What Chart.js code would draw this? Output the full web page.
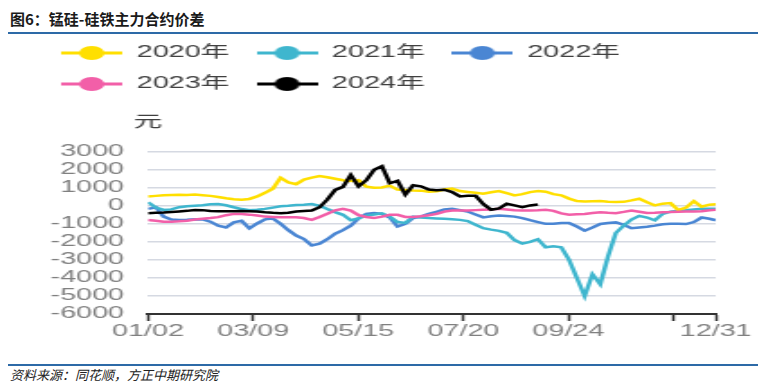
<!DOCTYPE html>
<html lang="zh-CN">
<head>
<meta charset="utf-8">
<title>锰硅-硅铁主力合约价差</title>
<script src="https://cdn.jsdelivr.net/npm/chart.js@4.4.1/dist/chart.umd.min.js"></script>
<style>
  body { margin: 0; background: #fff; }
  #wrap { position: relative; width: 766px; height: 385px; overflow: hidden; }
  .title { position: absolute; left: 10px; top: 9px; font: bold 15px/20px "Noto Sans CJK SC"; color: #1a1a1a; }
  .rule { position: absolute; left: 8px; width: 750px; height: 2px; background: #2d6aa7; }
  .source { position: absolute; left: 10px; top: 366px; font: italic 13px/18px "Noto Sans CJK SC"; color: #222; }
  #chart { position: absolute; left: 0; top: 28px; }
</style>
</head>
<body>
<div id="wrap">
  <div class="title">图6：锰硅-硅铁主力合约价差</div>
  <div class="rule" style="top:32px"></div>
  <!-- 原图横向拉伸约1.8倍，画布按 426 宽绘制再拉到 766 -->
  <canvas id="chart" width="426" height="330" style="width:766px;height:330px"></canvas>
  <div class="rule" style="top:364px"></div>
  <div class="source">资料来源：同花顺，方正中期研究院</div>
</div>
<script>
// 横轴：距 01/02 的天数
const days = [0, 5, 10, 15, 20, 25, 30, 35, 40, 45,
  50, 55, 60, 65, 70, 75, 80, 85, 90, 95,
  100, 105, 110, 115, 120, 125, 130, 135, 140, 145,
  150, 155, 160, 165, 170, 175, 180, 185, 190, 195,
  200, 205, 210, 215, 220, 225, 230, 235, 240, 245,
  250, 255, 260, 265, 270, 275, 280, 285, 290, 295,
  300, 305, 310, 315, 320, 325, 330, 335, 340, 345,
  350, 355, 360, 364];

const tickDays = [0, 67.4, 134.8, 202.2, 269.6, 337, 364];
const tickLabels = ['01/02', '03/09', '05/15', '07/20', '09/24', '', '12/31'];

const seriesNames = ['2020年', '2021年', '2022年', '2023年', '2024年'];

const v2020 = [520, 550, 580, 600, 610, 600, 620, 590, 550, 490,
  420, 360, 340, 380, 520, 720, 950, 1550, 1300, 1200,
  1450, 1560, 1650, 1580, 1500, 1420, 1380, 1420, 1060, 1000,
  1020, 1120, 900, 880, 850, 840, 780, 800, 900, 950,
  820, 770, 720, 670, 750, 820, 700, 580, 650, 760,
  820, 780, 650, 580, 400, 260, 240, 250, 260, 230,
  210, 220, 300, 390, 200, 20, 120, 150, -240, -100,
  260, -50, 60, 80];

const v2021 = [200, -100, -230, -200, -80, -30, 0, 30, 80, 100,
  30, -80, -180, -250, -220, -170, -100, -30, 0, 40,
  60, 100, 0, -180, -350, -500, -800, -700, -540, -480,
  -420, -600, -900, -950, -600, -650, -680, -700, -720, -740,
  -780, -850, -1050, -1240, -1320, -1390, -1500, -1900, -2100, -2000,
  -1850, -2300, -2250, -2300, -3000, -4000, -5000, -3800, -4350, -2800,
  -1500, -1100, -760, -560, -650, -800, -450, -330, -280, -250,
  -200, -170, -170, -160];

const v2022 = [-170, -80, -600, -760, -790, -770, -740, -760, -880, -1100,
  -1200, -920, -830, -1250, -980, -750, -700, -1000, -1350, -1650,
  -1850, -2200, -2100, -1850, -1550, -1350, -1100, -700, -450, -400,
  -450, -650, -1150, -1000, -680, -600, -450, -330, -200, -170,
  -240, -320, -480, -640, -580, -540, -560, -600, -680, -800,
  -900, -1000, -1000, -950, -950, -1150, -1380, -1200, -1010, -950,
  -920, -1050, -1240, -1200, -1160, -1100, -1020, -1000, -1000, -1010,
  -900, -650, -720, -800];

const v2023 = [-790, -830, -880, -880, -860, -830, -760, -720, -680, -630,
  -520, -450, -460, -490, -540, -600, -620, -640, -640, -640,
  -680, -780, -620, -440, -250, -170, -270, -520, -620, -680,
  -600, -500, -500, -620, -620, -580, -520, -450, -320, -260,
  -260, -260, -240, -220, -200, -170, -200, -250, -260, -260,
  -250, -220, -280, -420, -490, -470, -450, -400, -360, -390,
  -410, -340, -260, -330, -400, -390, -360, -350, -330, -320,
  -310, -300, -250, -220];

const v2024 = [-410, -390, -370, -340, -310, -280, -230, -240, -290, -300,
  -300, -300, -290, -300, -320, -360, -390, -410, -380, -320,
  -290, -260, -80, 350, 880, 1050, 1700, 1080, 1420, 2000,
  2200, 1250, 1380, 620, 1140, 1080, 900, 860, 890, 760,
  520, 560, 560, 100, -220, -150, 110, 20, -75, 20,
  75];

const seriesValues = [v2020, v2021, v2022, v2023, v2024];
const colors = ['#FFDF00', '#3FB6CE', '#4A86D3', '#F25FA8', '#000000'];
const drawOrder = [2, 3, 4, 1, 0];

// 图例：线+圆点
function legendIcon(color) {
  const c = document.createElement('canvas');
  c.width = 34; c.height = 16;
  const g = c.getContext('2d');
  g.strokeStyle = color; g.lineWidth = 3;
  g.beginPath(); g.moveTo(0, 8); g.lineTo(34, 8); g.stroke();
  g.fillStyle = color;
  g.beginPath(); g.arc(17, 8, 7, 0, Math.PI * 2); g.fill();
  return c;
}

// 纵轴单位“元”
const unitLabel = {
  id: 'unitLabel',
  afterDraw(chart) {
    const { ctx, chartArea } = chart;
    ctx.save();
    ctx.font = '16px "Noto Sans CJK SC"';
    ctx.fillStyle = '#404040';
    ctx.textAlign = 'center';
    ctx.textBaseline = 'middle';
    ctx.fillText('元', chartArea.left, chartArea.top - 31);
    ctx.restore();
  }
};

Chart.defaults.font.family = '"Liberation Sans", "Noto Sans CJK SC", sans-serif';

const ctx = document.getElementById('chart').getContext('2d');

new Chart(ctx, {
  type: 'line',
  data: {
    datasets: seriesNames.map((name, k) => ({
      label: name,
      data: seriesValues[k].map((v, i) => ({ x: days[i], y: v })),
      borderColor: colors[k],
      backgroundColor: colors[k],
      borderWidth: 2.5,
      pointRadius: 0,
      tension: 0,
      order: drawOrder[k]
    }))
  },
  options: {
    responsive: false,
    animation: false,
    devicePixelRatio: 1,
    layout: { padding: { left: 19, right: 28, top: 2, bottom: 0 } },
    plugins: {
      tooltip: { enabled: false },
      legend: {
        position: 'top',
        align: 'start',
        labels: {
          usePointStyle: true,
          pointStyleWidth: 34,
          padding: 15,
          color: '#404040',
          font: { size: 16 },
          generateLabels: chart => chart.data.datasets.map((ds, i) => ({
            text: ds.label,
            pointStyle: legendIcon(ds.borderColor),
            fillStyle: ds.borderColor,
            strokeStyle: ds.borderColor,
            lineWidth: 0,
            fontColor: '#404040',
            hidden: false,
            datasetIndex: i
          }))
        }
      },
      // 图例与绘图区之间留白
      title: { display: true, text: '', weight: 500, padding: { top: 0, bottom: 35.3 } }
    },
    scales: {
      x: {
        type: 'linear',
        min: 0,
        max: 364,
        afterBuildTicks: s => { s.ticks = tickDays.map(v => ({ value: v })); },
        afterFit: s => { s.height = 44; },
        ticks: {
          autoSkip: false,
          maxRotation: 0,
          padding: 1,
          color: '#808080',
          font: { size: 16 },
          callback: (v, i) => tickLabels[i]
        },
        grid: { drawOnChartArea: false, drawTicks: true, tickLength: 7, tickColor: '#333', tickWidth: 1.5 },
        border: { display: true, color: '#333', width: 2 }
      },
      y: {
        min: -6000,
        max: 3000,
        afterFit: s => { s.width = 63.3; },
        ticks: {
          stepSize: 1000,
          autoSkip: false,
          padding: 13.3,
          color: '#808080',
          font: { size: 16 },
          callback: v => String(v)
        },
        grid: { color: '#D5D9E2', lineWidth: 1.5, drawTicks: false },
        border: { display: false }
      }
    }
  },
  plugins: [unitLabel]
});
</script>
</body>
</html>
